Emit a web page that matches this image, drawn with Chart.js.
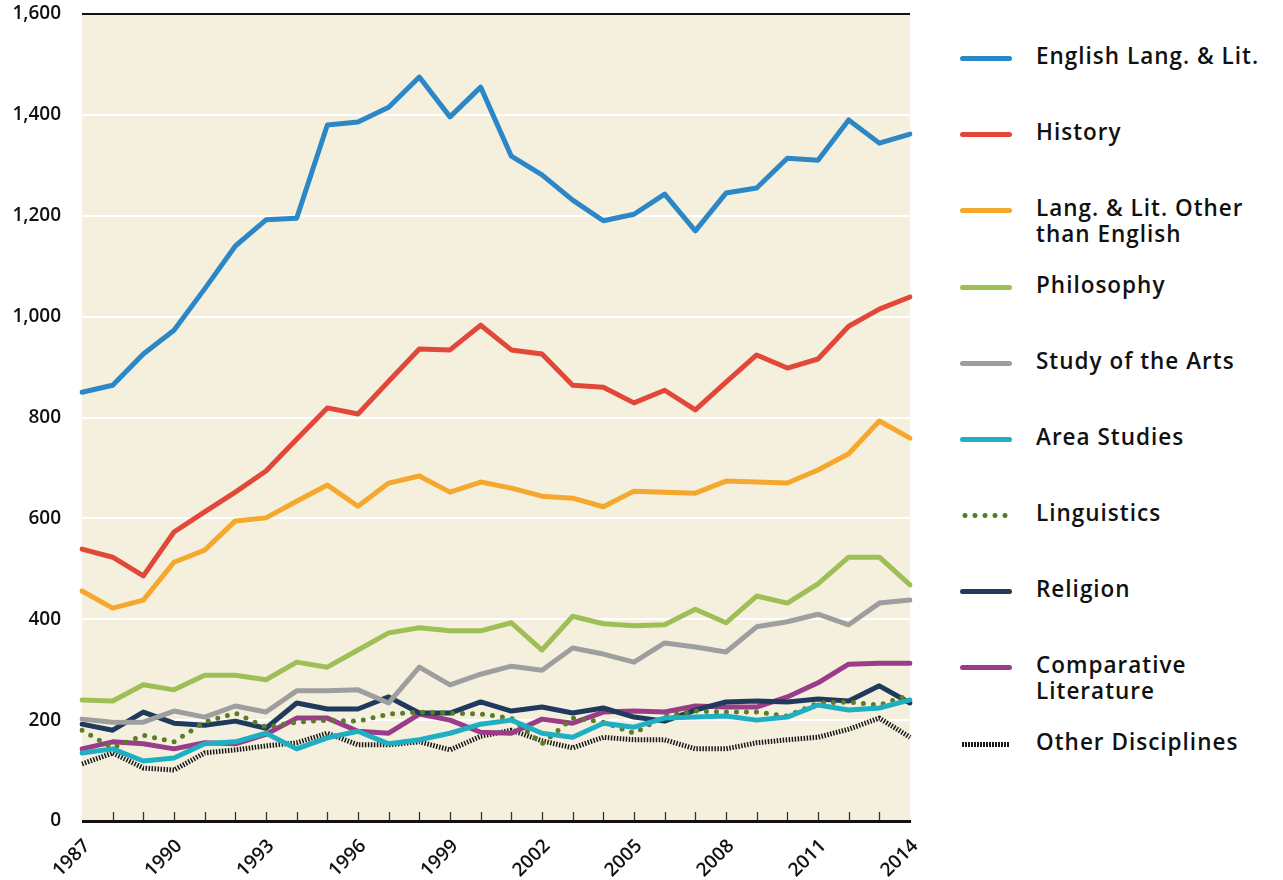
<!DOCTYPE html>
<html><head><meta charset="utf-8">
<script src="https://cdn.jsdelivr.net/npm/chart.js@4/dist/chart.umd.min.js"></script>
<style>
body{margin:0;background:#fff;width:1283px;height:880px;position:relative;overflow:hidden;font-family:"Open Sans",sans-serif;}
#wrap{position:absolute;left:0;top:0;width:940px;height:880px;}
#legend{position:absolute;left:0;top:0;}
.li{position:absolute;left:960px;}
.sw{position:absolute;left:0;width:52px;height:5px;border-radius:3px;top:-2.5px;}
.tx{position:absolute;left:76px;top:-15px;font-size:22.5px;line-height:26px;font-weight:600;letter-spacing:1px;color:#111;white-space:nowrap;}
</style></head><body>
<div id="wrap"><canvas id="c"></canvas></div>
<div id="legend"></div>
<script>
const years = [1987,1988,1989,1990,1991,1992,1993,1994,1995,1996,1997,1998,1999,2000,2001,2002,2003,2004,2005,2006,2007,2008,2009,2010,2011,2012,2013,2014];
const yTicks = [0,200,400,600,800,1000,1200,1400,1600];
const english = [850,864,926,973,1055,1140,1192,1195,1380,1386,1415,1475,1396,1455,1318,1281,1231,1190,1203,1243,1170,1245,1255,1314,1310,1390,1344,1362];
const history = [539,523,486,573,613,652,694,757,819,807,872,936,934,983,934,926,864,860,829,854,815,870,924,898,916,981,1015,1039];
const langOther = [456,422,438,513,537,595,601,634,666,624,670,684,652,672,660,644,640,623,654,652,650,674,672,670,696,728,793,759];
const philosophy = [240,238,270,260,289,289,280,315,305,339,373,383,377,377,393,339,406,391,387,389,420,393,446,432,470,523,523,468];
const arts = [202,196,196,218,206,228,216,258,258,260,234,305,270,291,307,299,343,331,315,353,345,335,385,395,410,389,432,438];
const area = [135,143,119,125,153,157,174,143,165,178,153,161,174,192,200,174,166,194,186,204,206,208,200,206,230,220,224,240];
const linguistics = [180,145,170,157,196,214,186,196,200,198,212,216,214,212,204,153,204,196,174,208,218,216,216,208,234,236,230,250];
const religion = [192,180,216,194,190,198,184,234,222,222,246,214,214,236,218,226,214,224,206,198,220,236,238,236,242,238,268,234];
const comparative = [143,157,153,143,155,153,172,204,204,178,174,212,200,176,174,202,194,216,218,216,228,226,226,246,274,311,313,313];
const other = [113,135,105,101,135,141,149,155,174,151,151,157,141,168,180,159,145,166,161,161,143,143,155,161,166,182,204,166];

const series = [
 {label:'English Lang. &amp; Lit.', data:english, color:'#2b87c6', y:58},
 {label:'History', data:history, color:'#e2483a', y:134},
 {label:'Lang. &amp; Lit. Other<br>than English', data:langOther, color:'#f5a82e', y:210},
 {label:'Philosophy', data:philosophy, color:'#9dbf55', y:287},
 {label:'Study of the Arts', data:arts, color:'#9e9e9e', y:363},
 {label:'Area Studies', data:area, color:'#1eafc3', y:439},
 {label:'Linguistics', data:linguistics, color:'#5a7e28', y:515, dash:[0,10], cap:'round'},
 {label:'Religion', data:religion, color:'#1f3a5d', y:591},
 {label:'Comparative<br>Literature', data:comparative, color:'#9b3c89', y:667},
 {label:'Other Disciplines', data:other, color:'#1a1a1a', y:744, dash:[1.5,1.5], cap:'butt'}
];

const bgPlugin = {
 id:'bg',
 beforeDraw(chart){
  const {ctx, chartArea:a} = chart;
  ctx.save(); ctx.fillStyle='#f5f0de'; ctx.fillRect(a.left,a.top,a.right-a.left,a.bottom-a.top); ctx.restore();
 },
 afterDatasetsDraw(chart){
  const {ctx, chartArea:a, scales} = chart;
  ctx.save();
  ctx.strokeStyle='#111';
  ctx.lineWidth=2;
  ctx.beginPath(); ctx.moveTo(a.left, a.top); ctx.lineTo(a.right, a.top); ctx.stroke();
  ctx.lineWidth=1.3; ctx.strokeStyle='#333';
  for(let i=1;i<years.length-1;i++){
   const x = Math.round(scales.x.getPixelForValue(i))+0.5;
   ctx.beginPath(); ctx.moveTo(x,a.bottom); ctx.lineTo(x,a.bottom-9); ctx.stroke();
  }
  ctx.lineWidth=3; ctx.strokeStyle='#111';
  ctx.beginPath(); ctx.moveTo(a.left, a.bottom+0.5); ctx.lineTo(a.right+1, a.bottom+0.5); ctx.stroke();
  ctx.restore();
 }
};

new Chart(document.getElementById('c'), {
 type:'line',
 data:{
  labels: years.map(String),
  datasets: series.map(s=>({
   label:s.label, data:s.data, borderColor:s.color, backgroundColor:s.color,
   borderWidth:5, pointRadius:0, tension:0, fill:false,
   borderDash:s.dash||[], borderCapStyle:s.cap||'round', borderJoinStyle:'round'
  }))
 },
 options:{
  responsive:true, maintainAspectRatio:false, animation:false,
  layout:{padding:{top:14,right:30,left:0,bottom:0}},
  plugins:{legend:{display:false}, tooltip:{enabled:false}},
  scales:{
   x:{
    grid:{display:false, drawTicks:false},
    border:{display:false},
    afterFit(s){ s.height = 59; s.paddingLeft=0; s.paddingRight=0; },
    ticks:{
     autoSkip:false, maxRotation:45, minRotation:45, padding:14, labelOffset:5,
     color:'#111', font:{family:'"Open Sans", sans-serif', size:19, weight:600},
     callback(v,i){ return (years[i]-1987)%3===0 ? String(years[i]) : ''; }
    }
   },
   y:{
    min:0, max:1600,
    afterFit(s){ s.width = 82; s.paddingTop=0; s.paddingBottom=0; },
    afterBuildTicks(s){ s.ticks = yTicks.map(v=>({value:v})); },
    grid:{color:(c)=> (c.tick && (c.tick.value===0||c.tick.value===1600)) ? 'rgba(0,0,0,0)' : '#ffffff', lineWidth:2, drawTicks:false},
    border:{display:false},
    ticks:{padding:21, color:'#111', font:{family:'"Open Sans", sans-serif', size:19, weight:600},
     callback(v){ return v.toLocaleString('en-US'); }}
   }
  }
 },
 plugins:[bgPlugin]
});

const lg = document.getElementById('legend');
series.forEach(s=>{
 const d = document.createElement('div'); d.className='li'; d.style.top = s.y+'px';
 const sw = document.createElement('div'); sw.className='sw';
 if(s.dash && s.dash[0]===0){
  sw.style.background = 'radial-gradient(circle, '+s.color+' 2.3px, transparent 2.8px) 0 0/10px 5px repeat-x';
  sw.style.borderRadius='0';
 } else if(s.dash){
  sw.style.background = 'repeating-linear-gradient(90deg, '+s.color+' 0 1.5px, transparent 1.5px 3px)';
  sw.style.borderRadius='0'; sw.style.width='48px'; sw.style.left='2px';
 } else sw.style.background = s.color;
 const t = document.createElement('div'); t.className='tx'; t.innerHTML = s.label;
 d.appendChild(sw); d.appendChild(t); lg.appendChild(d);
});
</script>
</body></html>
